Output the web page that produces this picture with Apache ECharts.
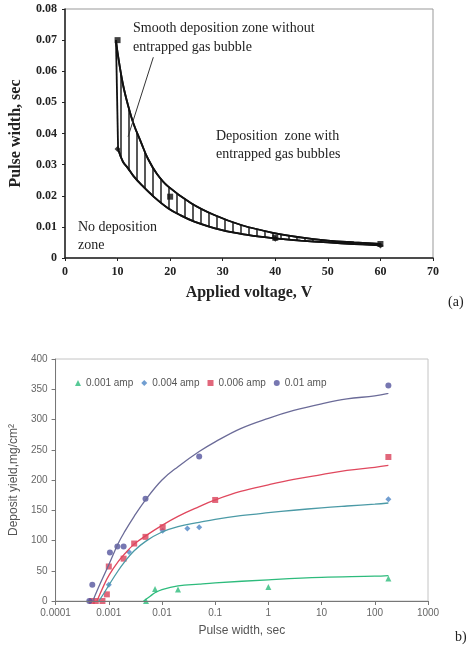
<!DOCTYPE html>
<html><head><meta charset="utf-8">
<script src="https://cdn.jsdelivr.net/npm/echarts@6/dist/echarts.min.js"></script>
<style>html,body{margin:0;padding:0;background:#fff}#c{width:474px;height:645px}</style>
</head><body><div id="c"></div>
<script>
// ---------- Chart (a) data ----------
var aXTicks = [0, 10, 20, 30, 40, 50, 60, 70];
var aUpperCurve = [[9.7,0.070],[10,0.066],[11,0.056],[12,0.049],[13,0.0433],[14.5,0.037],[15.8,0.0318],[17.5,0.027],[19.6,0.023],[24,0.0176],[28.4,0.0138],[33.5,0.0106],[39.8,0.0080],[44.8,0.0066],[50,0.0056],[55,0.0050],[60,0.0045]];
var aLeftEdge = [[9.7,0.070],[10.1,0.035]];
var aLowerCurve = [[10.1,0.035],[11,0.031],[12,0.0288],[13,0.0264],[14.6,0.0234],[17,0.0195],[19.6,0.016],[22,0.0137],[24.6,0.0117],[29.7,0.009],[34.7,0.0074],[39.8,0.0063],[44.8,0.0056],[50,0.0050],[55,0.0045],[60,0.0041]];
var aUpperPoints = [[10,0.070],[20,0.0197],[40,0.0065],[60,0.0045]];
var aLowerPoints = [[10,0.035],[40,0.0062],[60,0.004]];
var aArrow = [[16.8,0.0645],[12.0,0.039]];

// ---------- Chart (b) data ----------
var bLegend = ['0.001 amp','0.004 amp','0.006 amp','0.01 amp'];
var amp001 = [[0.005,0],[0.0074,20],[0.02,19],[1,23],[180,37]];
var amp004 = [[0.00045,0],[0.001,27],[0.0024,81],[0.0103,116],[0.03,120],[0.05,122],[180,168]];
var amp006 = [[0.00048,0],[0.00057,0],[0.00076,0],[0.00092,11],[0.001,57],[0.0019,70],[0.003,95],[0.0049,106],[0.0103,122],[0.1,167],[180,238]];
var amp01 = [[0.00043,0],[0.00049,27],[0.00105,80],[0.00145,90],[0.0019,90],[0.0049,169],[0.05,239],[180,356]];
var fit001 = [[0.0045,0],[0.006,8],[0.0075,14],[0.01,19],[0.02,25],[0.05,28],[0.1,30],[1,35],[10,39],[100,41],[180,42]];
var fit004 = [[0.00065,0],[0.0008,12],[0.001,26],[0.0015,50],[0.002,65],[0.003,83],[0.005,99],[0.01,114],[0.02,123],[0.05,130],[0.1,135],[0.3,141],[1,146],[3,150],[10,154],[30,157],[100,160],[180,162]];
var fit006 = [[0.0006,0],[0.0008,25],[0.001,42],[0.0015,65],[0.002,78],[0.003,94],[0.005,108],[0.01,125],[0.02,140],[0.05,156],[0.1,167],[0.3,181],[1,192],[3,201],[10,209],[30,216],[100,221],[180,224]];
var fit01 = [[0.0005,0],[0.0007,30],[0.001,60],[0.0015,95],[0.002,115],[0.003,140],[0.005,168],[0.01,200],[0.02,222],[0.05,247],[0.1,263],[0.3,285],[1,302],[3,315],[10,326],[30,334],[100,339],[180,343]];

// hatch pattern (style)
var pc = document.createElement('canvas'); pc.width = 8; pc.height = 8;
var pctx = pc.getContext('2d'); pctx.fillStyle = '#fff'; pctx.fillRect(0,0,8,8);
pctx.strokeStyle = '#111'; pctx.lineWidth = 1.4; pctx.beginPath(); pctx.moveTo(1,0); pctx.lineTo(1,8); pctx.stroke();

var serif = 'Liberation Serif';
var sans = 'Liberation Sans';
var cols = {g:'#2dbb7c', tM:'#4d86c6', tL:'#4b9aa6', r:'#d9415a', rL:'#e0485e', p:'#55559e', pL:'#6b6b98'};

var chart = echarts.init(document.getElementById('c'), null, {renderer:'canvas'});
chart.setOption({
  animation:false,
  grid:[
    {left:63, top:9, width:370, height:249, show:true, borderColor:'#999', borderWidth:1, backgroundColor:'transparent'},
    {left:53, top:359, width:375, height:242, show:true, borderColor:'#c4c4c4', borderWidth:1, backgroundColor:'transparent'}
  ],
  legend:{
    data:bLegend, left:70, top:373, itemWidth:6, itemHeight:6, itemGap:8,
    textStyle:{fontFamily:sans, fontSize:10, color:'#555'}
  },
  xAxis:[
    {gridIndex:0, type:'value', min:0, max:70, interval:10, z:10,
     axisLine:{lineStyle:{color:'#222', width:1.5}}, axisTick:{length:3, lineStyle:{color:'#222'}},
     axisLabel:{fontFamily:serif, fontWeight:'bold', fontSize:12, color:'#222', margin:8},
     splitLine:{show:false},
     name:'Applied voltage, V', nameLocation:'middle', nameGap:27,
     nameTextStyle:{fontFamily:serif, fontWeight:'bold', fontSize:16, color:'#222'}},
    {gridIndex:1, type:'log', logBase:10, min:0.0001, max:1000, z:10,
     axisLine:{lineStyle:{color:'#777', width:1}}, axisTick:{length:4, lineStyle:{color:'#777'}},
     axisLabel:{fontFamily:sans, fontSize:10, color:'#666', margin:7, formatter:function(v){return String(+(+v).toPrecision(6));}},
     splitLine:{show:false}, minorTick:{show:false},
     name:'Pulse width, sec', nameLocation:'middle', nameGap:24,
     nameTextStyle:{fontFamily:sans, fontSize:12, color:'#555'}}
  ],
  yAxis:[
    {gridIndex:0, type:'value', min:0, max:0.08, interval:0.01, z:10,
     axisLine:{lineStyle:{color:'#222', width:1.5}}, axisTick:{length:3, lineStyle:{color:'#222'}},
     axisLabel:{fontFamily:serif, fontWeight:'bold', fontSize:12, color:'#222', margin:8,
       formatter:function(v){return v===0?'0':v.toFixed(2);}},
     splitLine:{show:false},
     name:'Pulse width, sec', nameLocation:'middle', nameGap:41,
     nameTextStyle:{fontFamily:serif, fontWeight:'bold', fontSize:16, color:'#222'}},
    {gridIndex:1, type:'value', min:0, max:400, interval:50, z:10,
     axisLine:{lineStyle:{color:'#777', width:1}}, axisTick:{length:4, lineStyle:{color:'#777'}},
     axisLabel:{fontFamily:sans, fontSize:10, color:'#666', margin:8},
     splitLine:{show:false},
     name:'Deposit yield,mg/cm\u00b2', nameLocation:'middle', nameGap:33,
     nameTextStyle:{fontFamily:sans, fontSize:12, color:'#555'}}
  ],
  series:[
    // chart (a)
    {type:'line', xAxisIndex:0, yAxisIndex:0, data:aUpperCurve, smooth:0.4, showSymbol:false, z:2,
     lineStyle:{color:'#111', width:1.8}, areaStyle:{color:{image:pc, repeat:'repeat'}, opacity:1}},
    {type:'line', xAxisIndex:0, yAxisIndex:0, data:aLowerCurve, smooth:0.4, showSymbol:false, z:3,
     lineStyle:{color:'#111', width:1.8}, areaStyle:{color:'#fff', opacity:1}},
    {type:'line', xAxisIndex:0, yAxisIndex:0, data:aLeftEdge, smooth:false, showSymbol:false, z:3,
     lineStyle:{color:'#111', width:1.8}, areaStyle:{color:'#fff', opacity:1}},
    {type:'line', xAxisIndex:0, yAxisIndex:0, data:aUpperCurve, smooth:0.4, showSymbol:false, z:4,
     lineStyle:{color:'#111', width:1.8},
     markLine:{silent:true, symbol:['none','arrow'], symbolSize:[0,7], label:{show:false},
       lineStyle:{color:'#333', width:1, type:'solid'},
       data:[[{coord:aArrow[0]},{coord:aArrow[1]}]]}},
    {type:'line', xAxisIndex:0, yAxisIndex:0, data:aLowerCurve, smooth:0.4, showSymbol:false, z:4,
     lineStyle:{color:'#111', width:1.8}},
    {type:'scatter', xAxisIndex:0, yAxisIndex:0, data:aUpperPoints, symbol:'rect', symbolSize:6, z:5, itemStyle:{color:'#111'}},
    {type:'scatter', xAxisIndex:0, yAxisIndex:0, data:aLowerPoints, symbol:'diamond', symbolSize:6, z:5, itemStyle:{color:'#111'}},
    // chart (b) fit lines
    {name:'fit001', type:'line', xAxisIndex:1, yAxisIndex:1, data:fit001, smooth:0.4, showSymbol:false, lineStyle:{color:cols.g, width:1.3}},
    {name:'fit004', type:'line', xAxisIndex:1, yAxisIndex:1, data:fit004, smooth:0.4, showSymbol:false, lineStyle:{color:cols.tL, width:1.3}},
    {name:'fit006', type:'line', xAxisIndex:1, yAxisIndex:1, data:fit006, smooth:0.4, showSymbol:false, lineStyle:{color:cols.rL, width:1.3}},
    {name:'fit01', type:'line', xAxisIndex:1, yAxisIndex:1, data:fit01, smooth:0.4, showSymbol:false, lineStyle:{color:cols.pL, width:1.3}},
    // chart (b) points
    {name:bLegend[0], type:'scatter', xAxisIndex:1, yAxisIndex:1, data:amp001, symbol:'triangle', symbolSize:6, itemStyle:{color:cols.g}},
    {name:bLegend[1], type:'scatter', xAxisIndex:1, yAxisIndex:1, data:amp004, symbol:'diamond', symbolSize:6, itemStyle:{color:cols.tM}},
    {name:bLegend[2], type:'scatter', xAxisIndex:1, yAxisIndex:1, data:amp006, symbol:'rect', symbolSize:6, itemStyle:{color:cols.r}},
    {name:bLegend[3], type:'scatter', xAxisIndex:1, yAxisIndex:1, data:amp01, symbol:'circle', symbolSize:6, itemStyle:{color:cols.p}}
  ],
  graphic:[
    {type:'text', left:133, top:19, z:100, style:{text:'Smooth deposition zone without\nentrapped gas bubble', fontFamily:serif, fontSize:14, lineHeight:19, fill:'#222'}},
    {type:'text', left:216, top:127, z:100, style:{text:'Deposition  zone with\nentrapped gas bubbles', fontFamily:serif, fontSize:14, lineHeight:18, fill:'#222'}},
    {type:'text', left:78, top:218, z:100, style:{text:'No deposition\nzone', fontFamily:serif, fontSize:14, lineHeight:18, fill:'#222'}},
    {type:'text', left:448, top:295, z:100, style:{text:'(a)', fontFamily:serif, fontSize:14, fill:'#222'}},
    {type:'text', left:455, top:630, z:100, style:{text:'b)', fontFamily:serif, fontSize:14, fill:'#222'}}
  ]
});
</script></body></html>
